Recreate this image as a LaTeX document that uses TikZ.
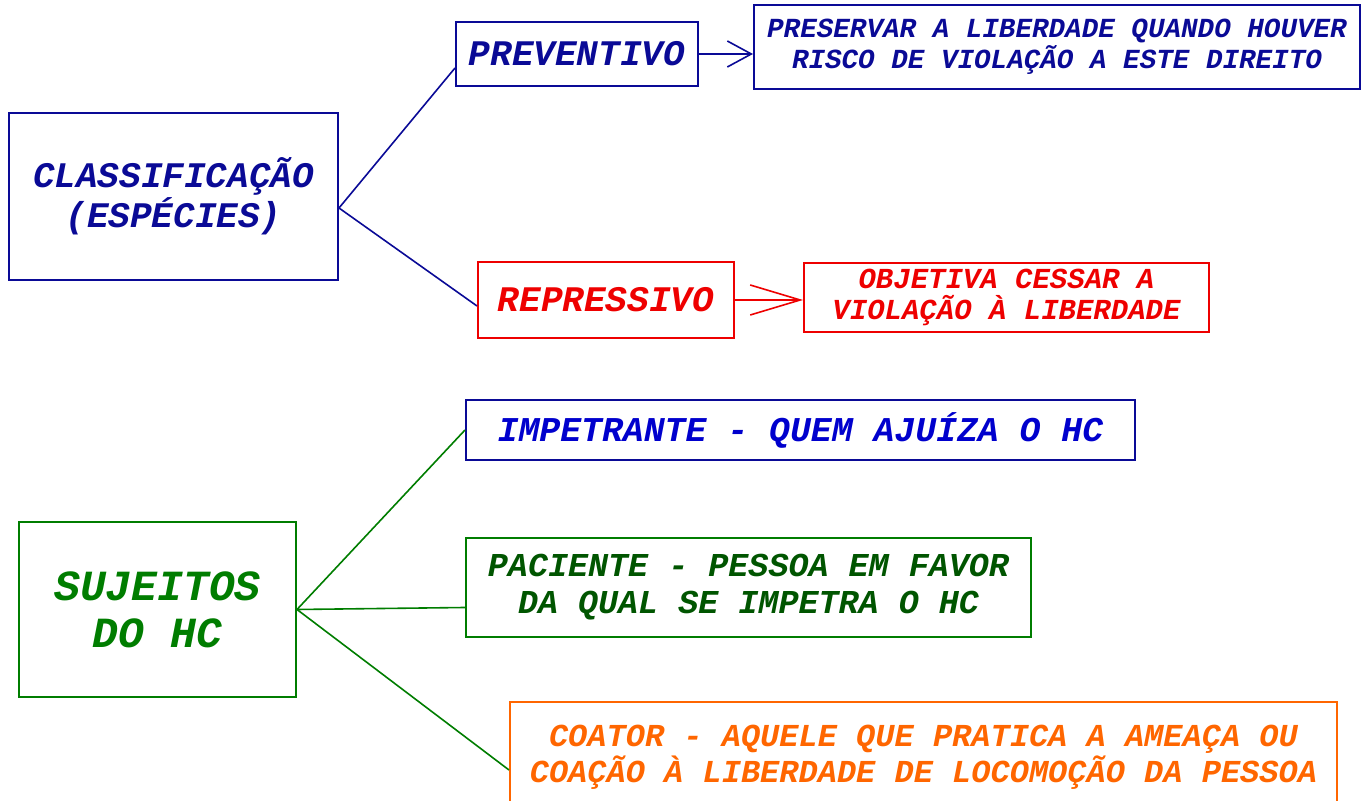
\documentclass[tikz,border=0pt]{standalone}
\usepackage{fontspec}
\setmonofont{Liberation Mono}
\usetikzlibrary{arrows.meta}
\definecolor{azul}{RGB}{10,10,150}
\definecolor{azulvivo}{RGB}{0,0,205}
\definecolor{vermelho}{RGB}{238,0,0}
\definecolor{verde}{RGB}{0,125,0}
\definecolor{verdeescuro}{RGB}{0,85,0}
\definecolor{laranja}{RGB}{255,102,0}
\tikzstyle{caixa}=[draw, line width=1pt, inner sep=0pt, align=center, font=\ttfamily\bfseries\itshape]
\tikzstyle{ligacao}=[line width=0.8pt]

\begin{document}
\begin{tikzpicture}[x=0.5pt,y=-0.5pt]
        \useasboundingbox (0,0) rectangle (1371,801);

        % Classificacao
        \node[caixa, azul, minimum width=164.5pt, minimum height=83.5pt, font=\ttfamily\bfseries\itshape\fontsize{18}{20}\selectfont] (classif) at (173.5,196.5) {CLASSIFICAÇÃO\\(ESPÉCIES)};
        \node[caixa, azul, minimum width=121pt, minimum height=32pt, font=\ttfamily\bfseries\itshape\fontsize{18}{20}\selectfont] (prev) at (577,54) {PREVENTIVO};
        \node[caixa, azul, minimum width=303pt, minimum height=42pt, font=\ttfamily\bfseries\itshape\fontsize{13.8}{15.5}\selectfont] (preservar) at (1057,47) {PRESERVAR A LIBERDADE QUANDO HOUVER\\RISCO DE VIOLAÇÃO A ESTE DIREITO};
        \node[caixa, vermelho, minimum width=128pt, minimum height=38pt, font=\ttfamily\bfseries\itshape\fontsize{18}{20}\selectfont] (repr) at (606,300) {REPRESSIVO};
        \node[caixa, vermelho, minimum width=202.5pt, minimum height=34.5pt, font=\ttfamily\bfseries\itshape\fontsize{14.5}{15.5}\selectfont] (objetiva) at (1006.5,297.5) {OBJETIVA CESSAR A\\VIOLAÇÃO À LIBERDADE};

        % Sujeitos
        \node[caixa, verde, minimum width=138.5pt, minimum height=87.5pt, font=\ttfamily\bfseries\itshape\fontsize{21.5}{23.5}\selectfont] (sujeitos) at (157.5,609.5) {SUJEITOS\\DO HC};
        \node[caixa, azul, text=azulvivo, minimum width=334.5pt, minimum height=30pt, font=\ttfamily\bfseries\itshape\fontsize{17.4}{19}\selectfont] (impetrante) at (800.5,430) {IMPETRANTE - QUEM AJUÍZA O HC};
        \node[caixa, verde, text=verdeescuro, minimum width=282.5pt, minimum height=49.5pt, font=\ttfamily\bfseries\itshape\fontsize{16.7}{18.5}\selectfont] (paciente) at (748.5,587.5) {PACIENTE - PESSOA EM FAVOR\\DA QUAL SE IMPETRA O HC};
        \node[caixa, laranja, minimum width=413.5pt, minimum height=55pt, font=\ttfamily\bfseries\itshape\fontsize{16}{18}\selectfont] (coator) at (923.5,757) {COATOR - AQUELE QUE PRATICA A AMEAÇA OU\\COAÇÃO À LIBERDADE DE LOCOMOÇÃO DA PESSOA};

        % Ligacoes
        \draw[ligacao, azul] ([yshift=-5.75pt]classif.east) -- ([yshift=-7pt]prev.west);
        \draw[ligacao, azul] ([yshift=-5.75pt]classif.east) -- ([yshift=-3pt]repr.west);
        \draw[ligacao, azul, -{Straight Barb[length=12pt,width=13pt]}] (prev.east) -- (prev.east -| preservar.west);
        \draw[ligacao, vermelho, -{Straight Barb[length=25pt,width=15pt]}] (repr.east) -- (repr.east -| objetiva.west);

        \draw[ligacao, verde] (sujeitos.east) -- (impetrante.west);
        \draw[ligacao, verde] (sujeitos.east) -- ([yshift=-10pt]paciente.west);
        \draw[ligacao, verde] (sujeitos.east) -- ([yshift=-6.5pt]coator.west);
    \end{tikzpicture}
\end{document}
